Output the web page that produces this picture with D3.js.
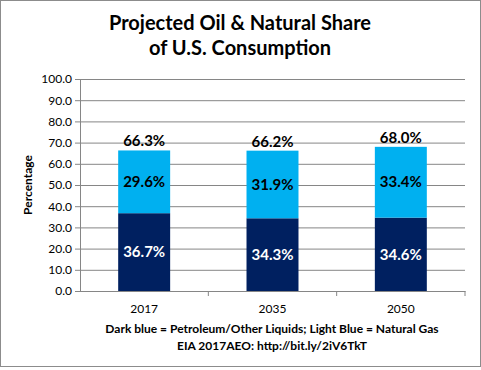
<!DOCTYPE html>
<html>
<head>
<meta charset="utf-8">
<script src="https://cdn.jsdelivr.net/npm/d3@7"></script>
<style>
  body { margin: 0; background: #fff; }
  svg { font-family: Lato, "Open Sans", sans-serif; }
</style>
</head>
<body>
<div id="chart"></div>
<script>
// data
var years = ["2017", "2035", "2050"]
var petroleum = [36.7, 34.3, 34.6]
var naturalGas = [29.6, 31.9, 33.4]
var totals = [66.3, 66.2, 68.0]
var yTicks = [0, 10, 20, 30, 40, 50, 60, 70, 80, 90, 100]

var width = 481, height = 370
var margin = { top: 79, right: 16, bottom: 79, left: 80 }

var svg = d3.select("#chart")
  .append("svg")
  .attr("width", width)
  .attr("height", height)

// outer border like the excel chart frame
svg.append("rect")
  .attr("x", 0.5).attr("y", 0.5)
  .attr("width", width - 1).attr("height", height - 4)
  .attr("fill", "white")
  .attr("stroke", "#8c8c8c")

var xScale = d3.scaleBand()
  .domain(years)
  .range([margin.left, width - margin.right])
  .padding(0)

var yScale = d3.scaleLinear()
  .domain([0, 100])
  .range([height - margin.bottom, margin.top])

var barW = xScale.bandwidth() * 0.405

// grid
var yGrid = d3.axisLeft(yScale)
  .tickValues(yTicks)
  .tickSize(-(width - margin.left - margin.right))
  .tickFormat("")

svg.append("g")
  .attr("transform", `translate(${margin.left},0)`)
  .attr("class", "grid")
  .call(yGrid)
  .call(g => g.select(".domain").remove())
  .selectAll("line")
  .attr("stroke", "#868686")

// y axis
var yAxis = d3.axisLeft(yScale)
  .tickValues(yTicks)
  .tickSize(5)
  .tickPadding(3)
  .tickFormat(d3.format(".1f"))

svg.append("g")
  .attr("transform", `translate(${margin.left},0)`)
  .call(yAxis)
  .call(g => g.select(".domain").attr("stroke", "#868686"))
  .call(g => g.selectAll("line").attr("stroke", "#868686"))
  .selectAll("text")
  .attr("font-size", "12px")
  .attr("font-family", "Lato, sans-serif")
  .attr("fill", "#000")

// bars
var stacks = years.map((y, i) => ({ year: y, pet: petroleum[i], gas: naturalGas[i], total: totals[i] }))

svg.selectAll(".bar-pet")
  .data(stacks)
  .enter()
  .append("rect")
  .attr("x", d => xScale(d.year) + (xScale.bandwidth() - barW) / 2)
  .attr("y", d => yScale(d.pet))
  .attr("width", barW)
  .attr("height", d => yScale(0) - yScale(d.pet))
  .style("fill", "#002060")

svg.selectAll(".bar-gas")
  .data(stacks)
  .enter()
  .append("rect")
  .attr("x", d => xScale(d.year) + (xScale.bandwidth() - barW) / 2)
  .attr("y", d => yScale(d.pet + d.gas))
  .attr("width", barW)
  .attr("height", d => yScale(d.pet) - yScale(d.pet + d.gas))
  .style("fill", "#00b0f0")

// x axis
var xAxis = d3.axisBottom(xScale)
  .tickSize(0)
  .tickPadding(13)

svg.append("g")
  .attr("transform", `translate(0,${yScale(0)})`)
  .call(xAxis)
  .call(g => g.select(".domain").attr("stroke", "#868686"))
  .selectAll("text")
  .attr("font-size", "12px")
  .attr("font-family", "Lato, sans-serif")
  .attr("fill", "#000")

// category separators
svg.append("g")
  .selectAll("line")
  .data(years.slice(1).concat(["end"]))
  .enter()
  .append("line")
  .attr("x1", d => d === "end" ? xScale.range()[1] : xScale(d))
  .attr("x2", d => d === "end" ? xScale.range()[1] : xScale(d))
  .attr("y1", yScale(0))
  .attr("y2", yScale(0) + 5)
  .attr("stroke", "#868686")

// value labels
var center = d => xScale(d.year) + xScale.bandwidth() / 2

svg.selectAll(".lbl-pet")
  .data(stacks)
  .enter()
  .append("text")
  .attr("x", center)
  .attr("y", d => yScale(d.pet / 2))
  .attr("dy", "0.35em")
  .attr("text-anchor", "middle")
  .attr("font-size", "15px")
  .attr("font-weight", "bold")
  .attr("fill", "white")
  .text(d => d.pet.toFixed(1) + "%")

svg.selectAll(".lbl-gas")
  .data(stacks)
  .enter()
  .append("text")
  .attr("x", center)
  .attr("y", d => yScale(d.pet + d.gas / 2))
  .attr("dy", "0.35em")
  .attr("text-anchor", "middle")
  .attr("font-size", "15px")
  .attr("font-weight", "bold")
  .attr("fill", "black")
  .text(d => d.gas.toFixed(1) + "%")

svg.selectAll(".lbl-total")
  .data(stacks)
  .enter()
  .append("text")
  .attr("x", center)
  .attr("y", d => yScale(d.total) - 4)
  .attr("text-anchor", "middle")
  .attr("font-size", "15px")
  .attr("font-weight", "bold")
  .attr("fill", "black")
  .text(d => d.total.toFixed(1) + "%")

// title
svg.append("text")
  .attr("x", 240).attr("y", 30)
  .attr("text-anchor", "middle")
  .attr("font-size", "20px")
  .attr("font-weight", "bold")
  .text("Projected Oil & Natural Share")

svg.append("text")
  .attr("x", 240).attr("y", 55)
  .attr("text-anchor", "middle")
  .attr("font-size", "20px")
  .attr("font-weight", "bold")
  .text("of U.S. Consumption")

// y axis title
svg.append("text")
  .attr("transform", `translate(32,${(yScale(0) + yScale(100)) / 2}) rotate(-90)`)
  .attr("text-anchor", "middle")
  .attr("font-size", "12px")
  .attr("font-weight", "bold")
  .text("Percentage")

// footnotes
svg.append("text")
  .attr("x", 272).attr("y", 333)
  .attr("text-anchor", "middle")
  .attr("font-size", "12px")
  .attr("font-weight", "bold")
  .text("Dark blue = Petroleum/Other Liquids; Light Blue = Natural Gas")

svg.append("text")
  .attr("x", 272).attr("y", 350)
  .attr("text-anchor", "middle")
  .attr("font-size", "12px")
  .attr("font-weight", "bold")
  .text("EIA 2017AEO: http://bit.ly/2iV6TkT")
</script>
</body>
</html>
